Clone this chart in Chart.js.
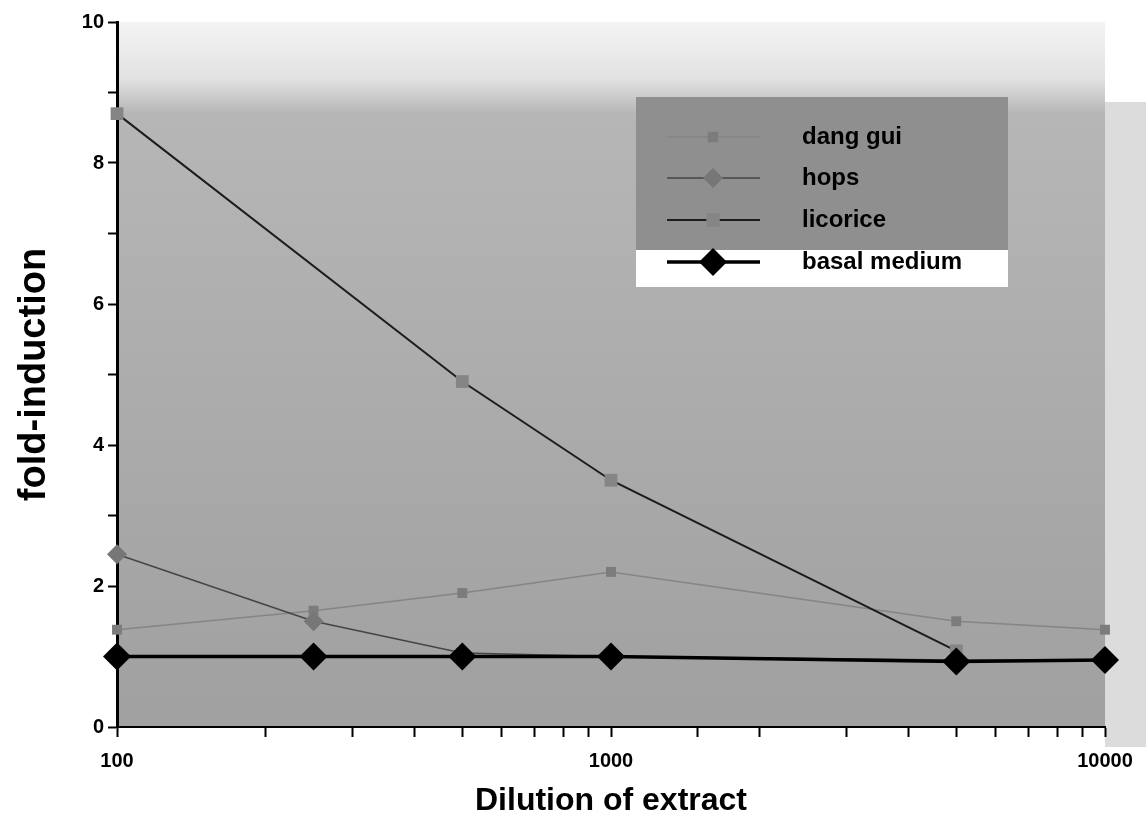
<!DOCTYPE html>
<html>
<head>
<meta charset="utf-8">
<script src="https://cdn.jsdelivr.net/npm/chart.js@4/dist/chart.umd.min.js"></script>
<style>
html,body{margin:0;padding:0;background:#fff;}
#wrap{width:1146px;height:837px;position:relative;}
</style>
</head>
<body>
<div id="wrap"><canvas id="foldChart"></canvas></div>
<script>
// dilution steps
const dilutions = [100, 250, 500, 1000, 5000, 10000];

// fold-induction per series
const dangGui = [1.38, 1.65, 1.9, 2.2, 1.5, 1.38];
const hops = [2.45, 1.5, 1.05, 1.0, 0.95, 0.95];
const licorice = [8.7, null, 4.9, 3.5, 1.08, null];
const basalMedium = [1.0, 1.0, 1.0, 1.0, 0.93, 0.95];

const seriesNames = ["dang gui", "hops", "licorice", "basal medium"];

// axis labels
const xTickLabels = [100, 1000, 10000];
const yTickLabels = [0, 2, 4, 6, 8, 10];

const FONT = "'Liberation Sans', Arial, Helvetica, sans-serif";

function points(vals){
  return dilutions.map((d, i) => ({x: d, y: vals[i]}));
}

// gray halftone-ish plot background
const backdrop = {
  id: "backdrop",
  beforeDraw(chart){
    const {ctx, chartArea: a, width, height} = chart;
    ctx.save();
    ctx.fillStyle = "#fff";
    ctx.fillRect(0, 0, width, height);
    ctx.fillStyle = "#dcdcdc";
    ctx.fillRect(a.right, a.top + 80, width - a.right, a.bottom - a.top - 60);
    const g = ctx.createLinearGradient(0, a.top, 0, a.bottom);
    g.addColorStop(0, "#f4f4f4");
    g.addColorStop(0.08, "#e2e2e2");
    g.addColorStop(0.13, "#b6b6b6");
    g.addColorStop(1, "#a0a0a0");
    ctx.fillStyle = g;
    ctx.fillRect(a.left, a.top, a.right - a.left, a.bottom - a.top);
    ctx.restore();
  }
};

// legend box drawn like the original (white strip behind last row)
const boxLegend = {
  id: "boxLegend",
  afterDatasetsDraw(chart){
    const ctx = chart.ctx;
    const bx = 636, by = 97, bw = 372, bh = 190;
    ctx.save();
    ctx.fillStyle = "#8f8f8f";
    ctx.fillRect(bx, by, bw, bh);
    ctx.fillStyle = "#ffffff";
    ctx.fillRect(bx, by + 153, bw, bh - 153);
    const rows = [137, 178, 220, 262];
    chart.data.datasets.forEach((ds, i) => {
      const y = rows[i];
      ctx.strokeStyle = ds.borderColor;
      ctx.lineWidth = ds.borderWidth;
      ctx.beginPath();
      ctx.moveTo(667, y);
      ctx.lineTo(760, y);
      ctx.stroke();
      const r = ds.pointRadius;
      ctx.fillStyle = ds.backgroundColor;
      ctx.beginPath();
      if (ds.pointStyle === "rectRot") {
        ctx.moveTo(713, y - r); ctx.lineTo(713 + r, y);
        ctx.lineTo(713, y + r); ctx.lineTo(713 - r, y);
        ctx.closePath();
      } else {
        const s = r * 0.75;
        ctx.rect(713 - s, y - s, 2 * s, 2 * s);
      }
      ctx.fill();
      ctx.fillStyle = "#000";
      ctx.font = "bold 24px " + FONT;
      ctx.textBaseline = "middle";
      ctx.textAlign = "left";
      ctx.fillText(ds.label, 802, y);
    });
    ctx.restore();
  }
};

new Chart(document.getElementById("foldChart"), {
  type: "line",
  data: {
    datasets: [
      {
        label: seriesNames[0], data: points(dangGui), order: 3, clip: false,
        borderColor: "#858585", borderWidth: 1.5,
        pointStyle: "rect", pointRadius: 7, backgroundColor: "#7c7c7c",
        pointBorderWidth: 0
      },
      {
        label: seriesNames[1], data: points(hops), order: 2, clip: false,
        borderColor: "#444", borderWidth: 1.5,
        pointStyle: "rectRot", pointRadius: 10, backgroundColor: "#777",
        pointBorderWidth: 0
      },
      {
        label: seriesNames[2], data: points(licorice), order: 1, spanGaps: true, clip: false,
        borderColor: "#1c1c1c", borderWidth: 2,
        pointStyle: "rect", pointRadius: 9, backgroundColor: "#858585",
        pointBorderWidth: 0
      },
      {
        label: seriesNames[3], data: points(basalMedium), order: 0, clip: false,
        borderColor: "#000", borderWidth: 3.5,
        pointStyle: "rectRot", pointRadius: 14, backgroundColor: "#000",
        pointBorderWidth: 0
      }
    ]
  },
  options: {
    responsive: true,
    maintainAspectRatio: false,
    animation: false,
    devicePixelRatio: 1,
    layout: {padding: {top: 22, right: 41, left: 0, bottom: 0}},
    plugins: {legend: {display: false}, tooltip: {enabled: false}},
    scales: {
      x: {
        type: "logarithmic",
        min: 100, max: 10000,
        afterFit(s){ s.height = 110; },
        grid: {drawOnChartArea: false, drawTicks: true, tickLength: 10, color: "#000", tickWidth: 2},
        border: {display: true, color: "#000", width: 2},
        ticks: {
          autoSkip: false, maxRotation: 0, padding: 12, color: "#000",
          font: {family: FONT, size: 20, weight: "bold"},
          callback: v => xTickLabels.includes(v) ? String(v) : ""
        },
        title: {
          display: true, text: "Dilution of extract", color: "#000",
          font: {family: FONT, size: 32, weight: "bold"},
          padding: {top: 0, bottom: 17}
        }
      },
      y: {
        min: 0, max: 10,
        afterFit(s){ s.width = 117; },
        grid: {drawOnChartArea: false, drawTicks: true, tickLength: 9, color: "#000", tickWidth: 2},
        border: {display: true, color: "#000", width: 3},
        ticks: {
          stepSize: 1, padding: 4, color: "#000",
          font: {family: FONT, size: 20, weight: "bold"},
          callback: v => yTickLabels.includes(v) ? String(v) : ""
        },
        title: {
          display: true, text: "fold-induction", color: "#000",
          font: {family: FONT, size: 38, weight: "bold"},
          padding: {top: 12, bottom: 0}
        }
      }
    }
  },
  plugins: [backdrop, boxLegend]
});
</script>
</body>
</html>
